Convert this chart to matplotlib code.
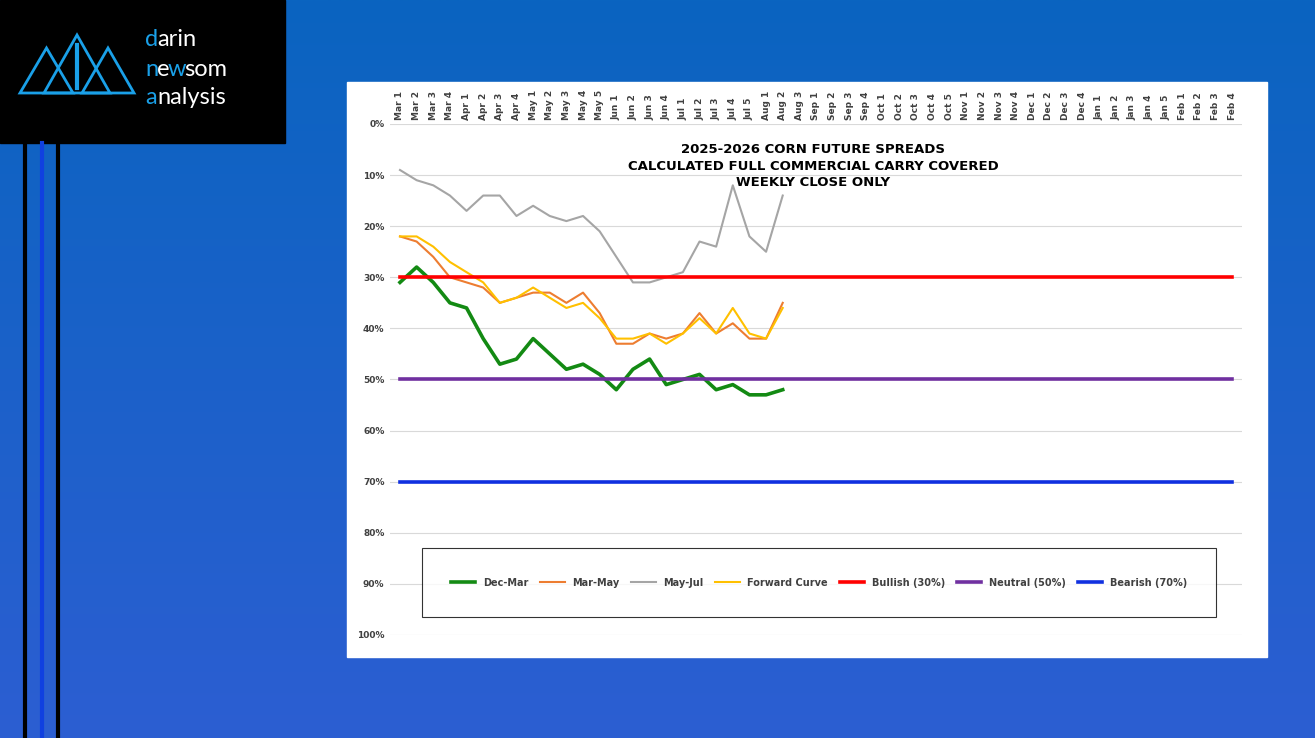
import matplotlib
matplotlib.use("Agg")
import matplotlib.pyplot as plt
import numpy as np
from matplotlib.patches import Rectangle, Polygon

months = [("Mar",4),("Apr",4),("May",5),("Jun",4),("Jul",5),("Aug",3),("Sep",4),
          ("Oct",5),("Nov",4),("Dec",4),("Jan",5),("Feb",4)]
categories = [f"{m} {i}" for m, n in months for i in range(1, n+1)]

dec_mar = [31,28,31,35,36,42,47,46,42,45,48,47,49,52,48,46,51,50,49,52,51,53,53,52]
mar_may = [22,23,26,30,31,32,35,34,33,33,35,33,37,43,43,41,42,41,37,41,39,42,42,35]
may_jul = [9,11,12,14,17,14,14,18,16,18,19,18,21,26,31,31,30,29,23,24,12,22,25,14]
forward = [22,22,24,27,29,31,35,34,32,34,36,35,38,42,42,41,43,41,38,41,36,41,42,36]
bullish, neutral, bearish = 30, 50, 70
yticks = list(range(0, 101, 10))

W, H = 1315, 738
fig = plt.figure(figsize=(W/100, H/100), dpi=100)

bg = fig.add_axes([0, 0, 1, 1])
grad = np.linspace(0, 1, 256)[:, None]
c1 = np.array([0x0a, 0x64, 0xc0]) / 255
c2 = np.array([0x2c, 0x5e, 0xd2]) / 255
img = c1[None, None, :] * (1 - grad[:, :, None]) + c2[None, None, :] * grad[:, :, None]
bg.imshow(np.repeat(img, 2, axis=1), aspect="auto", extent=[0, W, H, 0])
bg.set_xlim(0, W); bg.set_ylim(H, 0); bg.axis("off")
bg.add_patch(Rectangle((0, 0), 285, 143, color="black"))
bg.add_patch(Rectangle((347, 82), 920, 575, color="white"))
for x, c in [(25, "black"), (42, "#1040e0"), (58, "black")]:
    bg.plot([x, x], [143, H], color=c, lw=3)
lc = "#1aa0e8"
for (x0, x1, top) in [(20, 73, 48), (44, 110, 35), (82, 134, 48)]:
    bg.add_patch(Polygon([(x0, 93), ((x0+x1)/2, top), (x1, 93)], closed=True, fill=False, ec=lc, lw=2))
bg.plot([77, 77], [45, 88], color=lc, lw=3)
fs = 17
bg.text(145, 40, "d", color=lc, fontsize=fs, va="center", family="Lato")
bg.text(157, 40, "arin", color="white", fontsize=fs, va="center", family="Lato")
bg.text(145, 69, "n", color=lc, fontsize=fs, va="center", family="Lato")
bg.text(157, 69, "e", color="white", fontsize=fs, va="center", family="Lato")
bg.text(168, 69, "w", color=lc, fontsize=fs, va="center", family="Lato")
bg.text(184, 69, "som", color="white", fontsize=fs, va="center", family="Lato")
bg.text(145, 98, "a", color=lc, fontsize=fs, va="center", family="Lato")
bg.text(157, 98, "nalysis", color="white", fontsize=fs, va="center", family="Lato")

ax = fig.add_axes([390/W, 1-635/H, (1242-390)/W, (635-124)/H])
ax.set_facecolor("white")
x = np.arange(len(categories))
n = len(dec_mar)
ax.plot(x[:n], dec_mar, color="#138a13", lw=2.6, label="Dec-Mar")
ax.plot(x[:n], mar_may, color="#ed7d31", lw=1.5, label="Mar-May")
ax.plot(x[:n], may_jul, color="#a5a5a5", lw=1.5, label="May-Jul")
ax.plot(x[:n], forward, color="#ffc000", lw=1.5, label="Forward Curve")
ax.plot(x, [bullish]*len(x), color="#ff0000", lw=2.6, label="Bullish (30%)")
ax.plot(x, [neutral]*len(x), color="#7030a0", lw=2.6, label="Neutral (50%)")
ax.plot(x, [bearish]*len(x), color="#1030e0", lw=2.6, label="Bearish (70%)")
ax.set_xlim(-0.6, len(x) - 0.4)
ax.set_ylim(100, 0)
ax.set_yticks(yticks)
ax.set_yticklabels([f"{v}%" for v in yticks], fontsize=6.5, fontweight="bold", color="#404040")
ax.set_xticks(x)
ax.set_xticklabels(categories, rotation=90, fontsize=6.5, fontweight="bold", color="#404040")
ax.xaxis.tick_top()
ax.tick_params(length=0, pad=4)
ax.tick_params(axis="x", pad=3)
ax.grid(axis="y", color="#d9d9d9", lw=0.8)
ax.set_axisbelow(True)
for s in ax.spines.values():
    s.set_visible(False)
ax.text(0.497, 0.962, "2025-2026 CORN FUTURE SPREADS\nCALCULATED FULL COMMERCIAL CARRY COVERED\nWEEKLY CLOSE ONLY",
        transform=ax.transAxes, ha="center", va="top", fontsize=9.5, fontweight="bold", linespacing=1.35)
leg = ax.legend(loc="center", bbox_to_anchor=((417-390)/852, 1-(620-124)/511, (1221-417)/852, 75/511),
                ncol=7, mode="expand", frameon=True, fancybox=False, edgecolor="black",
                handlelength=2.5, borderpad=3.0, prop={"size": 7, "weight": "bold"})
leg.get_frame().set_linewidth(0.8)
for t in leg.get_texts():
    t.set_color("#404040")
fig.savefig("out.png", dpi=100)
